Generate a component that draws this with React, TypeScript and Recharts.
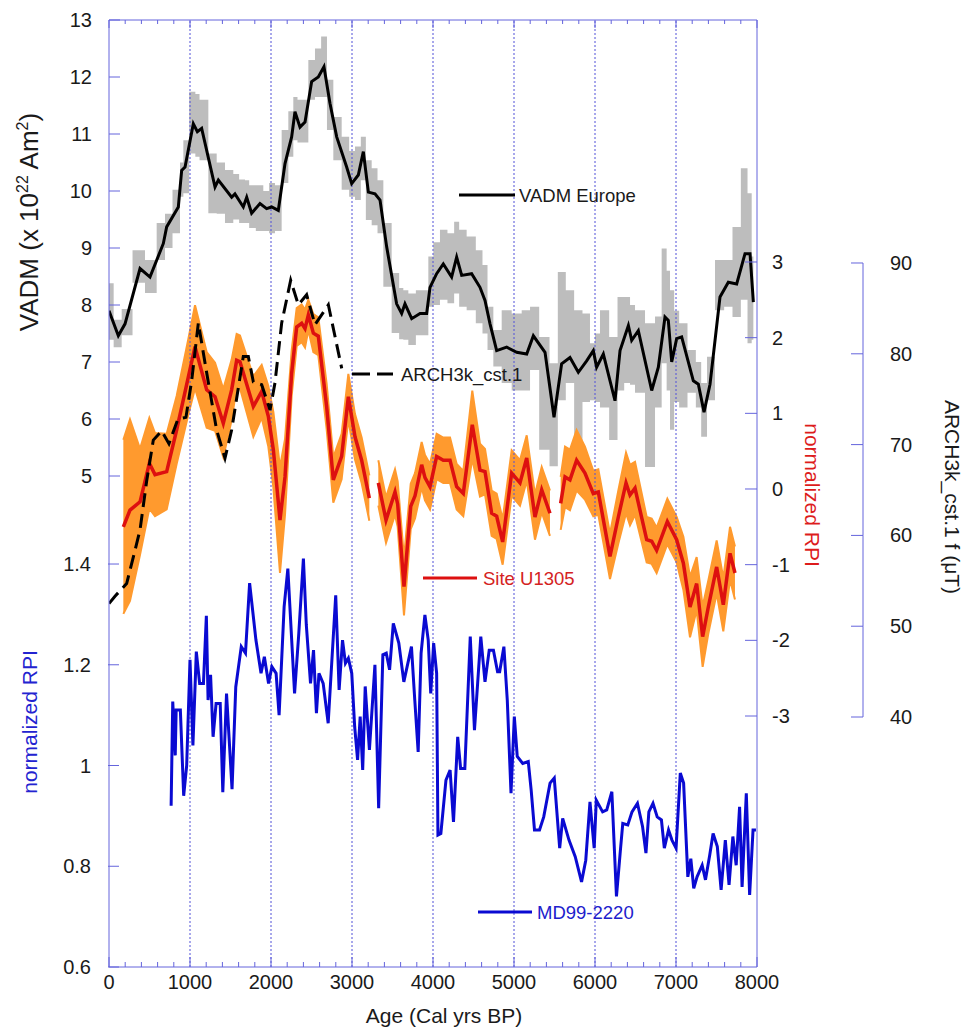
import React from "react";
import { ComposedChart, Line, Area, XAxis, YAxis, ReferenceLine } from "recharts";

const FONT = "'Liberation Sans', Arial, Helvetica, sans-serif";
const AXIS = "#6464dc";
const INK = "#1a1a1a";

// VADM Europe (x 10^22 Am^2), smoothed curve with its error envelope
const vadmAge = [
  0, 115, 198, 383, 506, 671, 712, 856, 897, 939,
  1041, 1091, 1144, 1309, 1350, 1514, 1555, 1658, 1700, 1761,
  1864, 1946, 2008, 2090, 2173, 2255, 2296, 2358, 2420, 2502,
  2584, 2654, 2728, 2811, 2934, 2996, 3078, 3140, 3202, 3284,
  3346, 3428, 3551, 3613, 3654, 3737, 3840, 3922, 3963, 4045,
  4127, 4230, 4292, 4354, 4477, 4580, 4642, 4704, 4786, 4910,
  5033, 5157, 5239, 5383, 5494, 5588, 5691, 5794, 5897, 5979,
  6020, 6103, 6247, 6309, 6412, 6453, 6535, 6700, 6782, 6864,
  6905, 6947, 7008, 7070, 7214, 7276, 7346, 7420, 7543, 7646,
  7749, 7852, 7914, 7955,
];
const vadmMean = [
  7.9, 7.46, 7.67, 8.64, 8.49, 9.08, 9.37, 9.72, 10.36, 10.42,
  11.18, 11.04, 11.1, 10.07, 10.19, 9.89, 9.95, 9.72, 9.89, 9.61,
  9.78, 9.69, 9.72, 9.66, 10.48, 10.95, 11.39, 11.12, 11.21, 11.92,
  12.0, 12.18, 11.54, 10.95, 10.42, 10.13, 10.28, 10.69, 9.98, 9.95,
  9.84, 9.02, 8.02, 7.85, 8.02, 7.76, 7.85, 7.85, 8.31, 8.55,
  8.72, 8.49, 8.84, 8.52, 8.55, 8.31, 8.08, 7.67, 7.2, 7.26,
  7.17, 7.14, 7.46, 7.17, 6.03, 6.97, 7.08, 6.82, 7.02, 7.2,
  6.91, 7.14, 6.32, 7.2, 7.64, 7.38, 7.55, 6.5, 6.91, 7.79,
  7.73, 7.0, 7.41, 7.44, 6.67, 6.61, 6.12, 6.61, 8.14, 8.4,
  8.37, 8.9, 8.9, 8.05,
];
const vadmLow = [
  7.39, 7.26, 7.47, 8.39, 8.21, 8.79, 9.0, 9.26, 9.9, 9.96,
  10.66, 10.6, 10.54, 9.61, 9.6, 9.44, 9.5, 9.44, 9.44, 9.35,
  9.3, 9.3, 9.26, 9.3, 10.14, 10.6, 10.89, 10.85, 10.85, 11.6,
  11.65, 11.65, 11.07, 10.54, 10.02, 9.9, 9.84, 10.19, 9.49, 9.4,
  9.26, 8.32, 7.51, 7.4, 7.39, 7.3, 7.47, 7.47, 7.97, 8.0,
  8.09, 8.03, 8.2, 7.97, 7.91, 7.68, 7.5, 7.21, 6.92, 6.63,
  6.5, 6.5, 6.86, 5.46, 5.17, 6.33, 6.63, 5.63, 6.3, 6.33,
  6.3, 6.2, 5.63, 6.5, 6.63, 6.6, 6.46, 5.16, 6.2, 6.98,
  6.5, 5.81, 6.3, 6.2, 6.46, 6.2, 5.69, 6.33, 7.91, 7.97,
  7.79, 8.09, 7.33, 7.39,
];
const vadmHigh = [
  8.38, 7.74, 7.93, 8.96, 8.79, 9.44, 9.6, 10.02, 10.5, 10.89,
  11.74, 11.7, 11.6, 10.66, 10.5, 10.37, 10.3, 10.2, 10.19, 10.1,
  10.1, 10.0, 10.14, 10.1, 11.07, 11.4, 11.65, 11.6, 11.6, 12.3,
  12.5, 12.71, 11.95, 11.3, 10.95, 10.7, 10.78, 10.95, 10.54, 10.4,
  10.19, 9.44, 8.56, 8.3, 8.26, 8.2, 8.26, 8.26, 8.85, 9.1,
  9.32, 9.26, 9.46, 9.32, 9.2, 8.96, 8.7, 7.97, 7.56, 7.91,
  7.85, 7.91, 7.97, 7.44, 6.98, 8.58, 8.26, 7.91, 7.85, 7.33,
  7.5, 7.91, 7.44, 8.14, 8.14, 8.0, 7.91, 7.68, 7.8, 8.99,
  8.6, 8.26, 7.9, 7.68, 7.21, 7.0, 6.63, 7.09, 8.79, 8.79,
  9.37, 10.4, 9.96, 8.85,
];

// ARCH3k_cst.1 field intensity (uT)
const archAge = [
  0, 74, 218, 300, 383, 465, 547, 650, 740, 850,
  950, 1020, 1103, 1206, 1329, 1432, 1514, 1658, 1720, 1782,
  1885, 1988, 2049, 2132, 2243, 2337, 2440, 2543, 2708, 2873,
];
const archF = [
  52.5, 53.3, 54.7, 57.6, 60.6, 66.0, 70.5, 71.5, 70.1, 72.8,
  73.0, 77.0, 83.4, 77.9, 71.6, 68.5, 71.6, 79.7, 79.7, 76.9,
  76.6, 73.8, 76.8, 83.4, 88.1, 85.4, 86.5, 83.2, 85.4, 78.4,
];

// Site U1305 normalized RPI and its envelope half width (null = gap)
const u1305Age = [
  177, 259, 383, 498, 568, 712, 835, 979, 1062, 1206,
  1309, 1411, 1514, 1576, 1617, 1782, 1885, 1967, 2029, 2111,
  2173, 2255, 2317, 2379, 2420, 2461, 2523, 2584, 2687, 2769,
  2872, 2955, 3037, 3119, 3214, 3270, 3325, 3420, 3531, 3564,
  3642, 3725, 3778, 3860, 3901, 3963, 4045, 4127, 4210, 4292,
  4374, 4485, 4580, 4642, 4724, 4786, 4860, 4971, 5074, 5157,
  5259, 5342, 5444, 5510, 5576, 5630, 5691, 5773, 5876, 5979,
  6041, 6185, 6288, 6383, 6432, 6494, 6638, 6700, 6761, 6893,
  7008, 7091, 7173, 7255, 7329, 7399, 7502, 7584, 7667, 7728,
];
const u1305Rpi = [
  -0.5, -0.28, -0.17, 0.34, 0.19, 0.23, 0.78, 1.48, 1.88, 1.31,
  1.22, 0.87, 1.31, 1.7, 1.68, 1.09, 1.29, 0.96, 0.52, -0.41,
  0.16, 1.53, 2.14, 2.19, 2.12, 2.3, 2.06, 2.02, 1.09, 0.12,
  0.43, 1.22, 0.69, 0.38, -0.12, null, 0.08, -0.41, -0.04, -0.2,
  -1.29, -0.23, -0.09, 0.32, 0.15, 0.03, 0.43, 0.38, 0.38, 0.03,
  -0.06, 0.85, 0.25, 0.23, -0.32, -0.36, -0.7, 0.21, 0.08, 0.41,
  -0.37, -0.01, -0.32, null, -0.19, 0.16, 0.12, 0.38, 0.21, -0.06,
  -0.04, -0.89, -0.37, 0.08, -0.08, 0.01, -0.67, -0.69, -0.81, -0.43,
  -0.67, -0.98, -1.56, -1.25, -1.95, -1.56, -1.03, -1.53, -0.85, -1.11,
];
const u1305Err = [
  1.15, 1.2, 0.7, 0.6, 0.55, 0.5, 0.45, 0.5, 0.55, 0.5,
  0.45, 0.45, 0.4, 0.35, 0.35, 0.4, 0.35, 0.4, 0.5, 0.7,
  0.5, 0.3, 0.25, 0.25, 0.25, 0.2, 0.25, 0.25, 0.3, 0.3,
  0.3, 0.3, 0.3, 0.3, 0.3, null, 0.3, 0.3, 0.3, 0.3,
  0.38, 0.3, 0.3, 0.3, 0.3, 0.3, 0.3, 0.3, 0.3, 0.3,
  0.3, 0.45, 0.35, 0.3, 0.3, 0.3, 0.3, 0.3, 0.3, 0.3,
  0.3, 0.3, 0.3, null, 0.35, 0.4, 0.4, 0.4, 0.35, 0.3,
  0.3, 0.3, 0.35, 0.4, 0.4, 0.35, 0.3, 0.3, 0.3, 0.3,
  0.3, 0.35, 0.4, 0.35, 0.4, 0.35, 0.35, 0.35, 0.35, 0.35,
];

// MD99-2220 normalized RPI
const mdAge = [
  767, 787, 818, 829, 881, 922, 959, 1000, 1036, 1078,
  1119, 1166, 1202, 1223, 1254, 1285, 1322, 1373, 1405, 1451,
  1519, 1565, 1633, 1685, 1736, 1814, 1877, 1918, 1970, 2011,
  2063, 2100, 2162, 2208, 2291, 2343, 2400, 2436, 2488, 2525,
  2561, 2592, 2644, 2706, 2799, 2841, 2883, 2919, 2955, 2997,
  3033, 3069, 3101, 3132, 3163, 3215, 3283, 3329, 3381, 3423,
  3464, 3510, 3578, 3640, 3734, 3775, 3817, 3853, 3900, 3941,
  3972, 4008, 4045, 4061, 4097, 4160, 4211, 4253, 4305, 4341,
  4393, 4460, 4512, 4590, 4642, 4694, 4746, 4797, 4823, 4875,
  4917, 4963, 5004, 5040, 5108, 5176, 5212, 5253, 5315, 5367,
  5445, 5497, 5564, 5601, 5679, 5756, 5834, 5886, 5938, 5990,
  6016, 6094, 6145, 6208, 6265, 6312, 6343, 6405, 6457, 6524,
  6587, 6629, 6665, 6716, 6768, 6820, 6856, 6908, 6950, 7001,
  7053, 7094, 7146, 7183, 7219, 7260, 7323, 7364, 7416, 7458,
  7510, 7557, 7609, 7655, 7702, 7743, 7785, 7816, 7868, 7909,
  7951, 7987,
];
const mdRpi = [
  0.92, 1.127, 1.02, 1.11, 1.11, 0.94, 1.0, 1.21, 1.04, 1.226,
  1.163, 1.163, 1.297, 1.13, 1.18, 1.057, 1.123, 1.123, 0.947, 1.143,
  0.953, 1.156, 1.236, 1.223, 1.362, 1.249, 1.183, 1.216, 1.163, 1.196,
  1.183, 1.1, 1.315, 1.391, 1.143, 1.262, 1.411, 1.279, 1.163, 1.229,
  1.104, 1.183, 1.163, 1.084, 1.338, 1.15, 1.249, 1.203, 1.213, 1.183,
  1.077, 1.011, 1.097, 0.991, 1.157, 1.031, 1.2, 0.915, 1.22, 1.223,
  1.19, 1.282, 1.243, 1.166, 1.236, 1.13, 1.027, 1.223, 1.299, 1.249,
  1.143, 1.243, 1.183, 0.862, 0.865, 0.971, 0.991, 0.888, 1.057, 0.994,
  0.994, 1.256, 1.07, 1.256, 1.166, 1.229, 1.229, 1.186, 1.186, 1.236,
  1.13, 0.945, 1.097, 1.018, 1.004, 1.008, 0.951, 0.872, 0.872, 0.898,
  0.965, 0.975, 0.836, 0.895, 0.852, 0.819, 0.769, 0.812, 0.928, 0.836,
  0.931, 0.908, 0.912, 0.948, 0.74, 0.829, 0.885, 0.882, 0.908, 0.925,
  0.879, 0.826, 0.908, 0.925, 0.898, 0.892, 0.836, 0.872, 0.852, 0.836,
  0.985, 0.965, 0.779, 0.815, 0.756, 0.779, 0.802, 0.773, 0.822, 0.865,
  0.839, 0.753, 0.852, 0.763, 0.859, 0.802, 0.918, 0.759, 0.945, 0.743,
  0.872, 0.872,
];

// axes
const ageTicks = Array.from({ length: 41 }, (_, i) => i * 200);
const gridAges = [1000, 2000, 3000, 4000, 5000, 6000, 7000];
const vadmTicks = [5, 6, 7, 8, 9, 10, 11, 12, 13];
const mdTicks = [0.6, 0.8, 1, 1.2, 1.4];
const rpiTicks = [-3, -2, -1, 0, 1, 2, 3];
const archTicks = [40, 50, 60, 70, 80, 90];

// the four vertical scales share the same plot height, shifted by their domains
const PLOT_H = 947;
const VADM_DOMAIN = [-3.614, 13];
const MD_DOMAIN = [0.6, 2.48];
const RPI_DOMAIN = [-6.317, 6.198];
const ARCH_DOMAIN = [12.47, 116.76];
const ARCH_STEP = (PLOT_H * 10) / (ARCH_DOMAIN[1] - ARCH_DOMAIN[0]);

const vadmRows = vadmAge.map((age, i) => ({
  age,
  vadm: vadmMean[i],
  band: [vadmLow[i], vadmHigh[i]],
}));
const archRows = archAge.map((age, i) => ({ age, arch: archF[i] }));
const u1305Rows = u1305Age.map((age, i) => {
  const v = u1305Rpi[i];
  const e = u1305Err[i];
  return { age, rpi: v, band: v == null || e == null ? null : [v - e, v + e] };
});
const mdRows = mdAge.map((age, i) => ({ age, md: mdRpi[i] }));

const tickText = { fontFamily: FONT, fontSize: 20, fill: INK };

const BottomTick = (props: any) => {
  const { x, y, payload } = props;
  const major = payload.value % 1000 === 0;
  return (
    <g>
      <line x1={x} x2={x} y1={y} y2={y - (major ? 10 : 5)} stroke={AXIS} />
      {major && (
        <text x={x} y={y + 15} textAnchor="middle" dominantBaseline="central" {...tickText}>
          {payload.value}
        </text>
      )}
    </g>
  );
};

const TopTick = (props: any) => {
  const { x, y, payload } = props;
  const major = payload.value % 1000 === 0;
  return <line x1={x} x2={x} y1={y} y2={y + (major ? 8 : 4)} stroke={AXIS} />;
};

const LeftTick = (props: any) => {
  const { x, y, payload } = props;
  return (
    <g>
      <line x1={x} x2={x + 11} y1={y} y2={y} stroke={AXIS} />
      <text x={x - 17} y={y} textAnchor="end" dominantBaseline="central" {...tickText}>
        {payload.value}
      </text>
    </g>
  );
};

const RpiTick = (props: any) => {
  const { x, y, payload } = props;
  return (
    <g>
      <line x1={x - 12} x2={x} y1={y} y2={y} stroke={AXIS} />
      <text x={x + 15} y={y} textAnchor="start" dominantBaseline="central" {...tickText}>
        {payload.value}
      </text>
    </g>
  );
};

const ArchTick = (props: any) => {
  const { x, y, payload } = props;
  return (
    <g>
      <line x1={x - 12} x2={x} y1={y} y2={y} stroke={AXIS} />
      {payload.value < 90 && <line x1={x} x2={x} y1={y} y2={y - ARCH_STEP} stroke={AXIS} />}
      <text x={x + 27} y={y} textAnchor="start" dominantBaseline="central" {...tickText}>
        {payload.value}
      </text>
    </g>
  );
};

const legendText = { fontFamily: FONT, fontSize: 18.5, dominantBaseline: "central" as const };
const titleText = { fontFamily: FONT, fontSize: 21 };

export default function App() {
  return (
    <div style={{ position: "relative", width: 957, height: 1021 }}>
      <ComposedChart
        width={957}
        height={1020}
        margin={{ top: 11, right: 42, bottom: 0, left: 99 }}
      >
        <XAxis
          dataKey="age"
          type="number"
          domain={[0, 8000]}
          allowDataOverflow
          ticks={ageTicks}
          interval={0}
          height={61}
          tickSize={0}
          tickMargin={0}
          tickLine={false}
          tick={BottomTick}
          axisLine={{ stroke: AXIS }}
        />
        <XAxis
          xAxisId="top"
          orientation="top"
          dataKey="age"
          type="number"
          domain={[0, 8000]}
          allowDataOverflow
          ticks={ageTicks}
          interval={0}
          height={1}
          tickSize={0}
          tickMargin={0}
          tickLine={false}
          tick={TopTick}
          axisLine={{ stroke: AXIS }}
        />
        <YAxis
          yAxisId="b-md"
          orientation="left"
          width={1}
          type="number"
          domain={MD_DOMAIN}
          allowDataOverflow
          ticks={mdTicks}
          interval={0}
          tickSize={0}
          tickMargin={0}
          tickLine={false}
          tick={LeftTick}
          axisLine={false}
        />
        <YAxis
          yAxisId="a-vadm"
          orientation="left"
          width={1}
          type="number"
          domain={VADM_DOMAIN}
          allowDataOverflow
          ticks={vadmTicks}
          interval={0}
          tickSize={0}
          tickMargin={0}
          tickLine={false}
          tick={LeftTick}
          axisLine={{ stroke: AXIS }}
        />
        <YAxis
          yAxisId="b-arch"
          orientation="right"
          width={60}
          type="number"
          domain={ARCH_DOMAIN}
          allowDataOverflow
          ticks={archTicks}
          interval={0}
          tickSize={0}
          tickMargin={0}
          tickLine={false}
          tick={ArchTick}
          axisLine={false}
        />
        <YAxis
          yAxisId="a-rpi"
          orientation="right"
          width={106}
          type="number"
          domain={RPI_DOMAIN}
          allowDataOverflow
          ticks={rpiTicks}
          interval={0}
          tickSize={0}
          tickMargin={0}
          tickLine={false}
          tick={RpiTick}
          axisLine={{ stroke: AXIS }}
        />

        {gridAges.map((a) => (
          <ReferenceLine
            key={a}
            x={a}
            yAxisId="a-vadm"
            stroke="#5050d8"
            strokeWidth={1}
            strokeDasharray="2 2"
          />
        ))}

        <Area
          yAxisId="a-vadm"
          data={vadmRows}
          dataKey="band"
          type="step"
          stroke="none"
          fill="#bdbdbd"
          fillOpacity={1}
          isAnimationActive={false}
        />
        <Area
          yAxisId="a-rpi"
          data={u1305Rows}
          dataKey="band"
          type="linear"
          stroke="#ff9a2e"
          strokeWidth={2}
          fill="#ff9a2e"
          fillOpacity={1}
          isAnimationActive={false}
        />
        <Line
          yAxisId="a-rpi"
          data={u1305Rows}
          dataKey="rpi"
          type="linear"
          stroke="#dd1010"
          strokeWidth={3.5}
          dot={false}
          isAnimationActive={false}
        />
        <Line
          yAxisId="a-vadm"
          data={vadmRows}
          dataKey="vadm"
          type="linear"
          stroke="#000"
          strokeWidth={3}
          dot={false}
          isAnimationActive={false}
        />
        <Line
          yAxisId="b-arch"
          data={archRows}
          dataKey="arch"
          type="linear"
          stroke="#000"
          strokeWidth={3}
          strokeDasharray="14 7"
          dot={false}
          isAnimationActive={false}
        />
        <Line
          yAxisId="b-md"
          data={mdRows}
          dataKey="md"
          type="linear"
          stroke="#0a0ad2"
          strokeWidth={3}
          dot={false}
          isAnimationActive={false}
        />
      </ComposedChart>

      <svg
        width={957}
        height={1021}
        style={{ position: "absolute", left: 0, top: 0, pointerEvents: "none" }}
      >
        {/* in-plot legend entries */}
        <line x1={451} x2={507} y1={187} y2={187} stroke="#000" strokeWidth={3} />
        <text x={511} y={187} fill={INK} {...legendText}>VADM Europe</text>

        <line x1={344} x2={385} y1={366} y2={366} stroke="#000" strokeWidth={3} strokeDasharray="18 7" />
        <text x={393} y={366} fill={INK} {...legendText}>ARCH3k_cst.1</text>

        <line x1={415} x2={469} y1={570} y2={570} stroke="#dd1010" strokeWidth={3} />
        <text x={475} y={570} fill="#d42222" {...legendText}>Site U1305</text>

        <line x1={470} x2={524} y1={904} y2={904} stroke="#0a0ad2" strokeWidth={3} />
        <text x={529} y={904} fill="#2020cc" {...legendText}>MD99-2220</text>

        {/* axis titles */}
        <text transform="translate(30,214) rotate(-90)" textAnchor="middle" fill={INK} fontFamily={FONT} fontSize={26}>
          VADM (x 10
          <tspan dy={-10} fontSize={16}>22</tspan>
          <tspan dy={10}> Am</tspan>
          <tspan dy={-10} fontSize={16}>2</tspan>
          <tspan dy={10}>)</tspan>
        </text>
        <text transform="translate(29,714) rotate(-90)" textAnchor="middle" fill="#2323d0" {...titleText}>
          normalized RPI
        </text>
        <text transform="translate(797,487) rotate(90)" textAnchor="middle" fill="#dd1c1c" {...titleText}>
          normalized RPI
        </text>
        <text transform="translate(937,489) rotate(90)" textAnchor="middle" fill={INK} {...titleText}>
          ARCH3k_cst.1 f (μT)
        </text>
        <text x={436} y={1007} textAnchor="middle" dominantBaseline="central" fill={INK} {...titleText}>
          Age (Cal yrs BP)
        </text>
      </svg>
    </div>
  );
}
